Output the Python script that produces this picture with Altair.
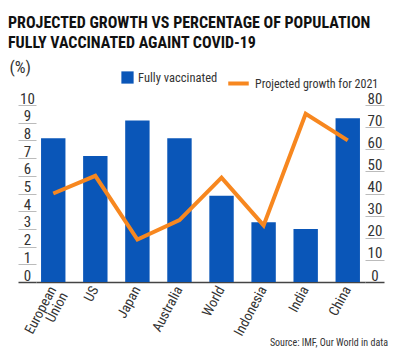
import altair as alt
import pandas as pd

categories = ["European Union", "US", "Japan", "Australia", "World", "Indonesia", "India", "China"]
vaccinated = [65, 57, 73, 65, 39, 27, 24, 74]
growth = [5.0, 6.0, 2.4, 3.5, 5.9, 3.2, 9.5, 8.0]
title_lines = ["PROJECTED GROWTH VS PERCENTAGE OF POPULATION", "FULLY VACCINATED AGAINT COVID-19"]
source_text = ["Source: IMF, Our World in data"]

df = pd.DataFrame({
    "country": categories,
    "vaccinated": vaccinated,
    "growth": growth,
    "s1": ["Fully vaccinated"] * len(categories),
    "s2": ["Projected growth for 2021"] * len(categories),
})

FONT = "Roboto Condensed, Liberation Sans Narrow, DejaVu Sans Condensed, sans-serif"
W, H = 329, 177
BLUE = "#0a56b8"
ORANGE = "#f7871f"
TXT = "#333"

x = alt.X("country:N", sort=categories, title=None,
          scale=alt.Scale(paddingInner=0.42, paddingOuter=0.12),
          axis=alt.Axis(labelAngle=-62, labelAlign="right", labelBaseline="middle",
                        ticks=False, labelPadding=5, labelFontSize=14, labelFont=FONT,
                        labelColor=TXT, domainColor="#444", domainWidth=1.5, labelLineHeight=13,
                        labelExpr="datum.label == 'European Union' ? ['European', 'Union'] : datum.label"))

bars = alt.Chart(df).mark_bar(color=BLUE).encode(
    x=x,
    y=alt.Y("vaccinated:Q", scale=alt.Scale(domain=[0, 80], nice=False),
            axis=alt.Axis(orient="right", values=list(range(0, 81, 10)), title=None,
                          grid=False, domain=False, tickSize=19,
                          tickColor={"expr": "datum.value == 0 ? '#444' : '#bbb'"},
                          tickWidth={"expr": "datum.value == 0 ? 1.5 : 1"},
                          labelPadding=-9.5, labelAlign="center", labelBaseline="alphabetic",
                          labelOffset=-2, labelFontSize=15, labelFont=FONT, labelColor=TXT,
                          labelOverlap=False)),
    fill=alt.Fill("s1:N", scale=alt.Scale(range=[BLUE]),
                  legend=alt.Legend(title=None, orient="none", legendX=85, legendY=-34,
                                    symbolType="square", symbolSize=150, symbolStrokeWidth=0,
                                    labelFontSize=12.5, labelFont=FONT, labelColor=TXT)),
)

line = alt.Chart(df).mark_line(strokeWidth=4, strokeJoin="miter").encode(
    x=x,
    y=alt.Y("growth:Q", scale=alt.Scale(domain=[0, 10], nice=False),
            axis=alt.Axis(orient="left", values=list(range(0, 11)), title="(%)",
                          grid=False, domain=False, tickSize=18,
                          tickColor={"expr": "datum.value == 0 ? '#444' : '#bbb'"},
                          tickWidth={"expr": "datum.value == 0 ? 1.5 : 1"},
                          labelPadding=-9, labelAlign="center", labelBaseline="alphabetic",
                          labelOffset=-2, labelFontSize=15, labelFont=FONT, labelColor=TXT,
                          labelOverlap=False,
                          titleAngle=0, titleAlign="left", titleBaseline="alphabetic",
                          titleX=-27, titleY=-33, titleFont=FONT, titleFontSize=17,
                          titleFontWeight="normal", titleColor=TXT)),
    stroke=alt.Stroke("s2:N", scale=alt.Scale(range=[ORANGE]),
                      legend=alt.Legend(title=None, orient="none", legendX=190, legendY=-34,
                                        symbolType="stroke", symbolSize=420, symbolStrokeWidth=4,
                                        labelFontSize=12, labelFont=FONT, labelColor=TXT)),
)

title_df = pd.DataFrame({"t": title_lines, "i": [0, 1]})
title = alt.Chart(title_df).mark_text(align="left", baseline="alphabetic", font=FONT,
                                      fontSize=16, fontWeight="bold", color="#111").encode(
    x=alt.value(-28),
    y=alt.Y("i:Q", scale=alt.Scale(domain=[0, 1], range=[-77, -57]), axis=None),
    text="t:N")

source = alt.Chart(pd.DataFrame({"t": source_text})).mark_text(
    align="right", baseline="alphabetic", font=FONT, fontSize=10, color=TXT).encode(
    x=alt.value(352), y=alt.value(241), text="t:N")

chart = alt.layer(bars, line, title, source).resolve_scale(y="independent").properties(
    width=W, height=H,
    autosize=alt.AutoSizeParams(type="none"),
    padding={"left": 28, "top": 97, "right": 26, "bottom": 73},
).configure_view(stroke=None)

chart.save("out.html", embed_options={"renderer": "svg", "actions": False})
